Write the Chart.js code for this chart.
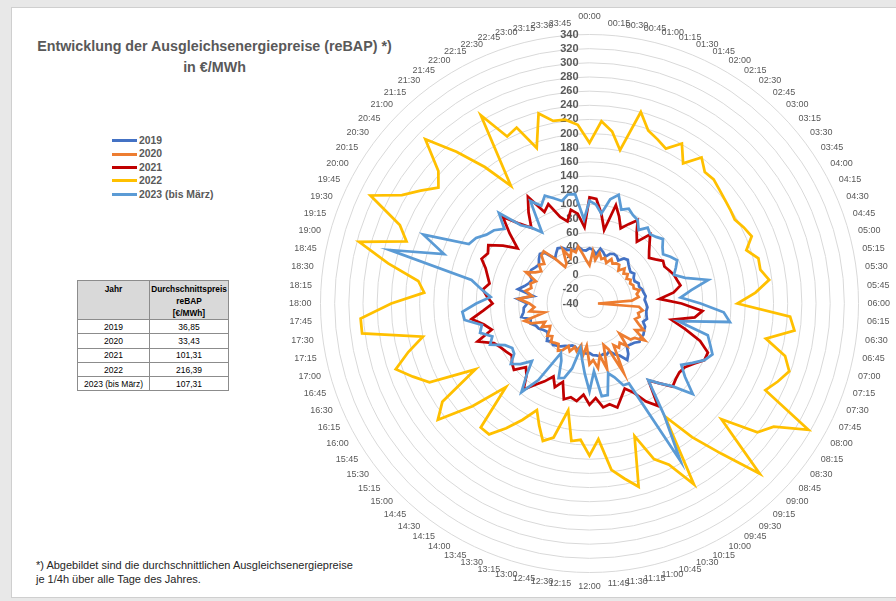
<!DOCTYPE html>
<html>
<head>
<meta charset="utf-8">
<script src="https://cdn.jsdelivr.net/npm/chart.js@4.4.1/dist/chart.umd.min.js"></script>
<style>
  html, body { margin: 0; padding: 0; width: 896px; height: 601px; overflow: hidden; background: #e8e8e8; }
  body { font-family: "Liberation Sans", Arial, sans-serif; position: relative; }
  #panel { position: absolute; left: 11px; top: 7px; width: 900px; height: 589px; background: #fff; border: 1px solid #cfcfcf; }
  #chart { position: absolute; left: 0; top: 0; }
  #title { position: absolute; left: 0; top: 36px; width: 429px; text-align: center; font-weight: bold; color: #595959; font-size: 14.3px; line-height: 21px; white-space: nowrap; }
  #legend { position: absolute; left: 112px; top: 134px; color: #595959; font-weight: bold; font-size: 10.4px; }
  #legend .row { height: 13.4px; line-height: 13.4px; display: flex; align-items: center; white-space: nowrap; }
  #legend .swatch { width: 25px; height: 3px; margin-right: 2px; }
  #avgTable { position: absolute; left: 77px; top: 280px; border-collapse: collapse; font-size: 8.5px; color: #000; }
  #avgTable th, #avgTable td { border: 1px solid #8c8c8c; padding: 0; text-align: center; }
  #avgTable th { background: #d9d9d9; font-weight: bold; vertical-align: top; font-size: 8.3px; line-height: 12px; height: 38px; padding-top: 2px; box-sizing: border-box; }
  #avgTable td { height: 13.3px; line-height: 12px; }
  #avgTable .c1 { width: 71px; }
  #avgTable .c2 { width: 78px; }
  #note { position: absolute; left: 36px; top: 558px; font-size: 11px; line-height: 14px; color: #262626; white-space: nowrap; }
</style>
</head>
<body>
<div id="panel"></div>
<div id="title">Entwicklung der Ausgleichsenergiepreise (reBAP) *)<br>in €/MWh</div>
<div id="legend"></div>
<table id="avgTable"></table>
<div id="note">*) Abgebildet sind die durchschnittlichen Ausgleichsenergiepreise<br>je 1/4h über alle Tage des Jahres.</div>
<canvas id="chart" width="896" height="601"></canvas>
<script>
// quarter-hour slots of the day
const timeSlots = [
  "00:00","00:15","00:30","00:45","01:00","01:15","01:30","01:45",
  "02:00","02:15","02:30","02:45","03:00","03:15","03:30","03:45",
  "04:00","04:15","04:30","04:45","05:00","05:15","05:30","05:45",
  "06:00","06:15","06:30","06:45","07:00","07:15","07:30","07:45",
  "08:00","08:15","08:30","08:45","09:00","09:15","09:30","09:45",
  "10:00","10:15","10:30","10:45","11:00","11:15","11:30","11:45",
  "12:00","12:15","12:30","12:45","13:00","13:15","13:30","13:45",
  "14:00","14:15","14:30","14:45","15:00","15:15","15:30","15:45",
  "16:00","16:15","16:30","16:45","17:00","17:15","17:30","17:45",
  "18:00","18:15","18:30","18:45","19:00","19:15","19:30","19:45",
  "20:00","20:15","20:30","20:45","21:00","21:15","21:30","21:45",
  "22:00","22:15","22:30","22:45","23:00","23:15","23:30","23:45"
];

const seriesNames = ["2019", "2020", "2021", "2022", "2023 (bis März)"];
const seriesColors = ["#4472C4", "#ED7D31", "#C00000", "#FFC000", "#5B9BD5"];

// average reBAP per quarter hour, €/MWh
const values2019 = [
  38,36,30,39,35,30,36,38,37,33,40,42,38,35,33,36,
  32,31,35,34,37,38,40,38,40,42,41,42,44,40,45,46,
  48,47,49,44,42,40,50,56,45,40,33,36,34,36,34,33,
  30,31,29,28,27,24,24,27,29,33,35,38,36,40,34,32,
  35,40,42,48,46,58,54,53,48,62,40,63,55,50,48,55,
  55,52,50,55,59,55,40,45,50,48,42,40,38,42,36,35
];
const values2020 = [
  14,34,22,33,25,28,22,30,25,28,29,22,30,24,28,23,
  27,24,27,26,33,28,30,20,-28,30,36,30,33,28,35,45,
  35,54,40,37,20,40,30,35,28,69,30,22,56,35,52,40,
  46,20,36,20,30,25,33,27,36,40,32,34,37,30,35,28,
  24,35,28,47,55,25,45,38,45,60,42,52,45,48,42,60,
  48,42,50,45,56,58,40,22,25,45,30,40,35,42,30,20
];
const values2021 = [
  110,108,88,66,104,90,75,85,96,80,70,90,80,72,66,72,
  80,78,82,86,88,91,80,59,90,120,110,78,100,125,141,141,
  130,122,120,122,126,110,97,134,120,100,90,100,112,105,108,94,
  103,89,99,95,100,77,88,75,87,98,113,95,87,102,98,92,
  96,100,106,127,103,112,128,110,97,105,112,104,109,115,125,120,
  125,107,88,110,133,110,95,115,134,104,112,89,80,95,88,68
];
const values2022 = [
  187,218,205,181,240,218,211,204,221,198,220,207,208,204,201,199,
  197,203,208,194,207,206,216,195,169,244,252,214,246,258,248,237,
  317,273,259,208,300,242,198,152,255,214,198,158,228,212,197,152,
  175,153,156,114,156,165,146,128,150,172,193,193,127,180,230,210,
  146,212,230,249,225,200,284,284,240,194,204,250,297,233,250,305,
  266,247,229,244,288,245,203,160,267,223,229,192,238,223,222,213
];
const values2023 = [
  105,100,88,110,119,100,105,99,96,85,95,90,93,98,90,85,
  92,98,92,86,100,131,105,89,117,150,160,88,133,140,148,141,
  128,116,130,154,125,110,96,150,217,86,85,70,62,92,92,56,
  84,60,40,25,55,71,74,50,41,90,118,95,75,90,100,88,
  86,93,112,105,120,115,138,140,120,100,114,130,252,177,214,150,
  145,135,130,120,141,107,95,81,127,114,125,117,110,117,116,79
];

// yearly averages shown in the side table
const avgYears = ["2019", "2020", "2021", "2022", "2023 (bis März)"];
const avgPrices = ["36,85", "33,43", "101,31", "216,39", "107,31"];

// radial axis range and step
const axisMin = -40;
const axisMax = 340;
const axisStep = 20;

// ---- side table ----
(function buildTable() {
  const t = document.getElementById('avgTable');
  let html = '<tr><th class="c1">Jahr</th><th class="c2">Durchschnittspreis<br>reBAP<br>[€/MWh]</th></tr>';
  avgYears.forEach((y, i) => {
    html += '<tr><td class="c1">' + y + '</td><td class="c2">' + avgPrices[i] + '</td></tr>';
  });
  t.innerHTML = html;
})();

// ---- legend ----
(function buildLegend() {
  const lg = document.getElementById('legend');
  seriesNames.forEach((name, i) => {
    const row = document.createElement('div');
    row.className = 'row';
    const sw = document.createElement('span');
    sw.className = 'swatch';
    sw.style.background = seriesColors[i];
    const tx = document.createElement('span');
    tx.textContent = name;
    row.appendChild(sw);
    row.appendChild(tx);
    lg.appendChild(row);
  });
})();

// fixed geometry of the polar plot
const PLOT_CX = 589.5, PLOT_CY = 303.5, PLOT_R = 269;
Chart.RadialLinearScale.prototype.setCenterPoint = function () {
  this.xCenter = PLOT_CX;
  this.yCenter = PLOT_CY;
  this.drawingArea = PLOT_R;
};

// value labels along the vertical axis and time labels around the rim
const axisLabels = {
  id: 'axisLabels',
  beforeDatasetsDraw(chart) {
    const s = chart.scales.r;
    const ctx = chart.ctx;
    ctx.save();
    ctx.font = 'bold 11px "Liberation Sans", Arial, sans-serif';
    ctx.fillStyle = '#595959';
    ctx.textAlign = 'right';
    ctx.textBaseline = 'middle';
    s.ticks.forEach(t => {
      const d = s.getDistanceFromCenterForValue(t.value);
      ctx.fillText(String(t.value), s.xCenter - 11, s.yCenter - d);
    });

    // rim labels: side-aligned at the spoke end, nudged up in the upper half
    ctx.font = '9px "Liberation Sans", Arial, sans-serif';
    const lineH = 10.8;
    const n = chart.data.labels.length;
    chart.data.labels.forEach((lab, i) => {
      const deg = i * 360 / n;
      const p = s.getPointPosition(i, s.drawingArea + 9);
      const c = Math.cos(deg * Math.PI / 180);
      let y;
      if (deg === 0) { ctx.textAlign = 'center'; y = p.y - 8.8; }
      else if (deg === 180) { ctx.textAlign = 'center'; y = p.y + 5.4; }
      else { ctx.textAlign = deg < 180 ? 'left' : 'right'; y = p.y - 0.25 * lineH * c; }
      ctx.fillText(lab, p.x, y);
    });
    ctx.restore();
  }
};

const allValues = [values2019, values2020, values2021, values2022, values2023];

new Chart(document.getElementById('chart'), {
  type: 'radar',
  data: {
    labels: timeSlots,
    datasets: allValues.map((vals, i) => ({
      label: seriesNames[i],
      data: vals,
      borderColor: seriesColors[i],
      backgroundColor: 'transparent',
      borderWidth: 2.75,
      pointRadius: 0,
      pointHoverRadius: 0,
      fill: false,
      tension: 0,
      order: allValues.length - i
    }))
  },
  options: {
    responsive: false,
    animation: false,
    events: [],
    plugins: { legend: { display: false }, tooltip: { enabled: false } },
    elements: { line: { borderJoinStyle: 'miter' } },
    scales: {
      r: {
        min: axisMin,
        max: axisMax,
        ticks: { display: false, stepSize: axisStep },
        grid: { circular: true, color: '#d9d9d9', lineWidth: 1 },
        angleLines: { display: false },
        pointLabels: { display: false }
      }
    }
  },
  plugins: [axisLabels]
});
</script>
</body>
</html>
